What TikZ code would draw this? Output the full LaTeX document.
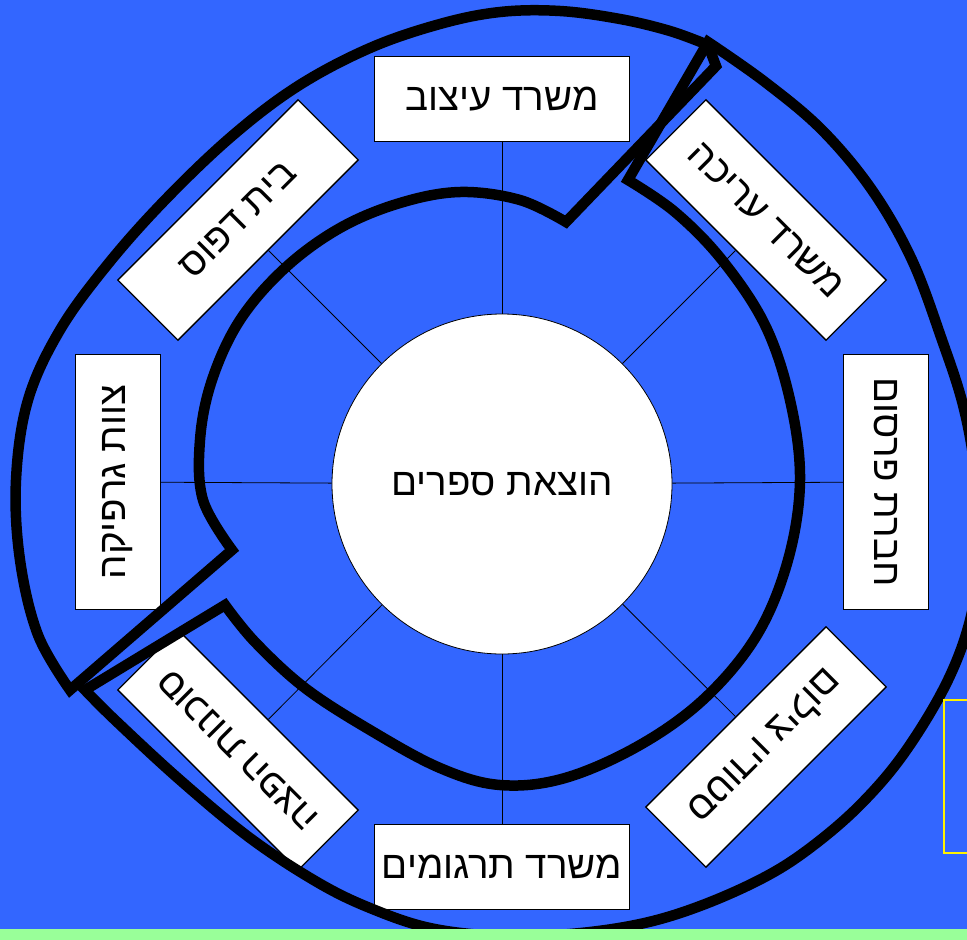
\documentclass[tikz,border=0pt]{standalone}
\usepackage{fontspec}
\usepackage{xcolor}
\usepackage{tikz}
\usetikzlibrary{positioning}
\setmainfont{Liberation Sans}
\newfontfamily\hebfont[Script=Hebrew]{Liberation Sans}
\TeXXeTstate=1
\definecolor{slideblue}{HTML}{3366FF}
\definecolor{slidegreen}{HTML}{99FF99}
\newcommand{\heb}[1]{\beginR #1\endR}

\begin{document}
\begin{tikzpicture}[x=1pt, y=-1pt,
      font=\hebfont\fontsize{38.5}{44}\selectfont,
      dept/.style={draw=black, line width=1.3pt, fill=white, minimum width=255pt,
                   minimum height=85pt, inner sep=0pt},
      hub/.style={circle, draw=black, line width=0.8pt, fill=white,
                  minimum size=340pt, inner sep=0pt},
      spoke/.style={draw=black, line width=0.8pt},
      band/.style={draw=black, line width=10.5pt, line join=miter, miter limit=6}
    ]
    % slide background
    \useasboundingbox (0,0) rectangle (967,940);
    \clip (0,0) rectangle (967,940);
    \fill[slideblue] (0,0) rectangle (967,940);
    % hub and departments
    \node[hub] (pub) at (502,484) {\heb{הוצאת ספרים}};
    \node[dept] (design) at (502,99) {\heb{משרד עיצוב}};
    \node[dept, rotate=-45] (edit) at (766,220) {\heb{משרד עריכה}};
    \node[dept, rotate=-90] (advert) at (886,482) {\heb{חברת פרסום}};
    \node[dept, rotate=-135] (photo) at (766,747) {\heb{סטודיו צילום}};
    \node[dept] (transl) at (502,867) {\heb{משרד תרגומים}};
    \node[dept, rotate=135] (distrib) at (238,750) {\heb{סוכנות הפצה}};
    \node[dept, rotate=90] (graphics) at (118,482) {\heb{צוות גרפיקה}};
    \node[dept, rotate=45] (print) at (238,220) {\heb{בית דפוס}};
    \foreach \d in {design,edit,advert,photo,transl,distrib,graphics,print}
      \draw[spoke] (pub) -- (\d);
    % upper band
    \draw[band] (716,66) -- (566,222)
      -- plot[smooth, tension=0.6] coordinates {(566,222) (520,200) (460,192) (400,203)
         (340,228) (285,268) (240,320) (212,380) (200,440) (203,500) (232,550)}
      -- (70,690)
      -- plot[smooth, tension=0.6] coordinates {(70,690) (38,635) (20,560) (16,480)
         (28,400) (60,330) (108,264) (165,200) (232,136) (298,86) (370,48) (440,24)
         (500,12) (560,11) (620,19) (670,31) (708,45)}
      -- cycle;
    % lower band
    \draw[band] (628,180) -- (708,42)
      -- plot[smooth, tension=0.6] coordinates {(708,42) (765,82) (822,130) (872,190)
         (912,260) (942,340) (963,405) (975,470) (980,540) (972,612) (948,680)
         (905,752) (860,805) (810,848) (763,878) (700,906) (640,924) (570,934) (500,936)
         (430,928) (370,908) (317,882) (250,838) (180,780) (115,720) (85,690)}
      -- (225,605)
      -- plot[smooth, tension=0.6] coordinates {(225,605) (255,642) (305,688) (370,730)
         (440,768) (500,785) (565,778) (640,745) (705,698) (757,635) (788,560)
         (800,480) (790,400) (765,325) (722,260) (675,212) (628,180)}
      -- cycle;
    % slide frame pieces
    \draw[yellow, line width=2pt] (944,700) rectangle (990,853);
    \fill[slidegreen] (0,929) rectangle (967,940);
  \end{tikzpicture}
\end{document}
